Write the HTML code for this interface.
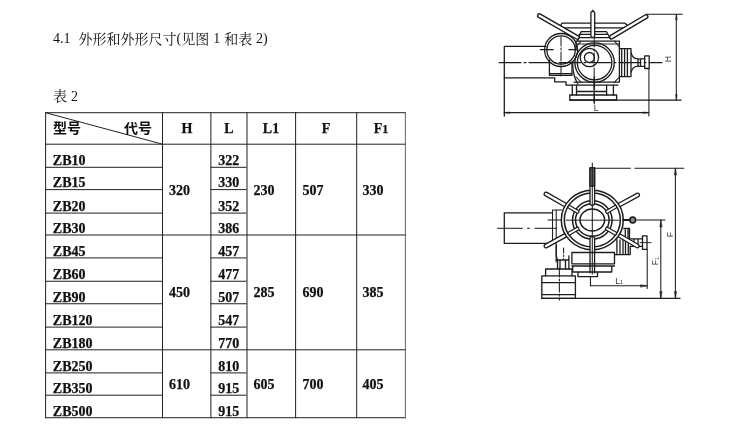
<!DOCTYPE html>
<html><head><meta charset="utf-8">
<style>
html,body{margin:0;padding:0;background:#fff;}
body{width:734px;height:432px;overflow:hidden;position:relative;font-family:"Liberation Serif",serif;}
svg{position:absolute;left:0;top:0;filter:grayscale(1);}
text{font-family:"Liberation Serif",serif;fill:#111;}
.lbl text{font-family:"Liberation Sans",sans-serif;fill:#333;}
</style></head><body>
<svg width="734" height="432" viewBox="0 0 734 432">
<g>
<rect x="45.1" y="112.2" width="360.79999999999995" height="1" fill="#222"/>
<rect x="45.1" y="143.7" width="360.79999999999995" height="1" fill="#222"/>
<rect x="45.1" y="417.2" width="360.79999999999995" height="1" fill="#222"/>
<rect x="45.1" y="112.2" width="1" height="306.0" fill="#222"/>
<rect x="162.0" y="112.2" width="1" height="306.0" fill="#222"/>
<rect x="210.4" y="112.2" width="1" height="306.0" fill="#222"/>
<rect x="246.5" y="112.2" width="1" height="306.0" fill="#222"/>
<rect x="295.1" y="112.2" width="1" height="306.0" fill="#222"/>
<rect x="356.2" y="112.2" width="1" height="306.0" fill="#222"/>
<rect x="404.9" y="112.2" width="1" height="306.0" fill="#666"/>
<rect x="45.1" y="166.8" width="116.9" height="1" fill="#222"/>
<rect x="210.4" y="166.8" width="36.099999999999994" height="1" fill="#222"/>
<rect x="45.1" y="189.1" width="116.9" height="1" fill="#222"/>
<rect x="210.4" y="189.1" width="36.099999999999994" height="1" fill="#222"/>
<rect x="45.1" y="212.6" width="116.9" height="1" fill="#222"/>
<rect x="210.4" y="212.6" width="36.099999999999994" height="1" fill="#222"/>
<rect x="45.1" y="234.5" width="360.79999999999995" height="1" fill="#222"/>
<rect x="45.1" y="257.4" width="116.9" height="1" fill="#222"/>
<rect x="210.4" y="257.4" width="36.099999999999994" height="1" fill="#222"/>
<rect x="45.1" y="280.75" width="116.9" height="1" fill="#222"/>
<rect x="210.4" y="280.75" width="36.099999999999994" height="1" fill="#222"/>
<rect x="45.1" y="303.25" width="116.9" height="1" fill="#222"/>
<rect x="210.4" y="303.25" width="36.099999999999994" height="1" fill="#222"/>
<rect x="45.1" y="326.6" width="116.9" height="1" fill="#222"/>
<rect x="210.4" y="326.6" width="36.099999999999994" height="1" fill="#222"/>
<rect x="45.1" y="349.3" width="360.79999999999995" height="1" fill="#222"/>
<rect x="45.1" y="372.4" width="116.9" height="1" fill="#222"/>
<rect x="210.4" y="372.4" width="36.099999999999994" height="1" fill="#222"/>
<rect x="45.1" y="394.7" width="116.9" height="1" fill="#222"/>
<rect x="210.4" y="394.7" width="36.099999999999994" height="1" fill="#222"/>
</g>
<line x1="45.6" y1="112.7" x2="162.5" y2="144.2" stroke="#222" stroke-width="1"/>
<g>
<text x="53" y="43.4" font-size="14" font-weight="normal" text-anchor="start" >4.1</text>
<text x="176.5" y="43.4" font-size="14" font-weight="normal" text-anchor="start" >(</text>
<text x="213.3" y="43.4" font-size="14" font-weight="normal" text-anchor="start" >1</text>
<text x="256" y="43.4" font-size="14" font-weight="normal" text-anchor="start" >2)</text>
<text x="71" y="100.7" font-size="14" font-weight="normal" text-anchor="start" >2</text>
<text x="52.8" y="165.10000000000002" font-size="14" font-weight="bold" text-anchor="start"  stroke="#111" stroke-width="0.25">ZB10</text>
<text x="218.3" y="165.10000000000002" font-size="14" font-weight="bold" text-anchor="start"  stroke="#111" stroke-width="0.25">322</text>
<text x="52.8" y="187.4" font-size="14" font-weight="bold" text-anchor="start"  stroke="#111" stroke-width="0.25">ZB15</text>
<text x="218.3" y="187.4" font-size="14" font-weight="bold" text-anchor="start"  stroke="#111" stroke-width="0.25">330</text>
<text x="52.8" y="210.9" font-size="14" font-weight="bold" text-anchor="start"  stroke="#111" stroke-width="0.25">ZB20</text>
<text x="218.3" y="210.9" font-size="14" font-weight="bold" text-anchor="start"  stroke="#111" stroke-width="0.25">352</text>
<text x="52.8" y="232.8" font-size="14" font-weight="bold" text-anchor="start"  stroke="#111" stroke-width="0.25">ZB30</text>
<text x="218.3" y="232.8" font-size="14" font-weight="bold" text-anchor="start"  stroke="#111" stroke-width="0.25">386</text>
<text x="52.8" y="255.7" font-size="14" font-weight="bold" text-anchor="start"  stroke="#111" stroke-width="0.25">ZB45</text>
<text x="218.3" y="255.7" font-size="14" font-weight="bold" text-anchor="start"  stroke="#111" stroke-width="0.25">457</text>
<text x="52.8" y="279.05" font-size="14" font-weight="bold" text-anchor="start"  stroke="#111" stroke-width="0.25">ZB60</text>
<text x="218.3" y="279.05" font-size="14" font-weight="bold" text-anchor="start"  stroke="#111" stroke-width="0.25">477</text>
<text x="52.8" y="301.55" font-size="14" font-weight="bold" text-anchor="start"  stroke="#111" stroke-width="0.25">ZB90</text>
<text x="218.3" y="301.55" font-size="14" font-weight="bold" text-anchor="start"  stroke="#111" stroke-width="0.25">507</text>
<text x="52.8" y="324.90000000000003" font-size="14" font-weight="bold" text-anchor="start"  stroke="#111" stroke-width="0.25">ZB120</text>
<text x="218.3" y="324.90000000000003" font-size="14" font-weight="bold" text-anchor="start"  stroke="#111" stroke-width="0.25">547</text>
<text x="52.8" y="347.6" font-size="14" font-weight="bold" text-anchor="start"  stroke="#111" stroke-width="0.25">ZB180</text>
<text x="218.3" y="347.6" font-size="14" font-weight="bold" text-anchor="start"  stroke="#111" stroke-width="0.25">770</text>
<text x="52.8" y="370.7" font-size="14" font-weight="bold" text-anchor="start"  stroke="#111" stroke-width="0.25">ZB250</text>
<text x="218.3" y="370.7" font-size="14" font-weight="bold" text-anchor="start"  stroke="#111" stroke-width="0.25">810</text>
<text x="52.8" y="393.0" font-size="14" font-weight="bold" text-anchor="start"  stroke="#111" stroke-width="0.25">ZB350</text>
<text x="218.3" y="393.0" font-size="14" font-weight="bold" text-anchor="start"  stroke="#111" stroke-width="0.25">915</text>
<text x="52.8" y="415.5" font-size="14" font-weight="bold" text-anchor="start"  stroke="#111" stroke-width="0.25">ZB500</text>
<text x="218.3" y="415.5" font-size="14" font-weight="bold" text-anchor="start"  stroke="#111" stroke-width="0.25">915</text>
<text x="169" y="194.5" font-size="14" font-weight="bold" text-anchor="start"  stroke="#111" stroke-width="0.25">320</text>
<text x="253.5" y="194.5" font-size="14" font-weight="bold" text-anchor="start"  stroke="#111" stroke-width="0.25">230</text>
<text x="302.5" y="194.5" font-size="14" font-weight="bold" text-anchor="start"  stroke="#111" stroke-width="0.25">507</text>
<text x="362.5" y="194.5" font-size="14" font-weight="bold" text-anchor="start"  stroke="#111" stroke-width="0.25">330</text>
<text x="169" y="297" font-size="14" font-weight="bold" text-anchor="start"  stroke="#111" stroke-width="0.25">450</text>
<text x="253.5" y="297" font-size="14" font-weight="bold" text-anchor="start"  stroke="#111" stroke-width="0.25">285</text>
<text x="302.5" y="297" font-size="14" font-weight="bold" text-anchor="start"  stroke="#111" stroke-width="0.25">690</text>
<text x="362.5" y="297" font-size="14" font-weight="bold" text-anchor="start"  stroke="#111" stroke-width="0.25">385</text>
<text x="169" y="389" font-size="14" font-weight="bold" text-anchor="start"  stroke="#111" stroke-width="0.25">610</text>
<text x="253.5" y="389" font-size="14" font-weight="bold" text-anchor="start"  stroke="#111" stroke-width="0.25">605</text>
<text x="302.5" y="389" font-size="14" font-weight="bold" text-anchor="start"  stroke="#111" stroke-width="0.25">700</text>
<text x="362.5" y="389" font-size="14" font-weight="bold" text-anchor="start"  stroke="#111" stroke-width="0.25">405</text>
<text x="187" y="133" font-size="14" font-weight="bold" text-anchor="middle"  stroke="#111" stroke-width="0.25">H</text>
<text x="229" y="133" font-size="14" font-weight="bold" text-anchor="middle"  stroke="#111" stroke-width="0.25">L</text>
<text x="271" y="133" font-size="14" font-weight="bold" text-anchor="middle"  stroke="#111" stroke-width="0.25">L1</text>
<text x="326" y="133" font-size="14" font-weight="bold" text-anchor="middle"  stroke="#111" stroke-width="0.25">F</text>
<text x="381" y="133" font-size="14" font-weight="bold" text-anchor="middle"  stroke="#111" stroke-width="0.25">F<tspan font-size="12">1</tspan></text>
</g>
<g>
<text x="78.5" y="43.7" font-size="14" style="font-family:'Liberation Serif','Noto Serif CJK SC',serif">外形和外形尺寸</text>
<text x="181.2" y="43.7" font-size="14" style="font-family:'Liberation Serif','Noto Serif CJK SC',serif">见图</text>
<text x="224.3" y="43.7" font-size="14" style="font-family:'Liberation Serif','Noto Serif CJK SC',serif">和表</text>
<text x="53" y="100.7" font-size="14" style="font-family:'Liberation Serif','Noto Serif CJK SC',serif">表</text>
<text x="53" y="133.4" font-size="14" font-weight="bold" style="font-family:'Liberation Sans','Noto Sans CJK SC',sans-serif">型号</text>
<text x="124" y="133.4" font-size="14" font-weight="bold" style="font-family:'Liberation Sans','Noto Sans CJK SC',sans-serif">代号</text>
</g>
<defs>
<filter id="bl" x="-5%" y="-5%" width="110%" height="110%"><feGaussianBlur stdDeviation="0.4"/></filter>
</defs>
<g id="top" fill="none" stroke="#1c1c1c" stroke-width="1.3" stroke-linecap="round" stroke-linejoin="round" filter="url(#bl)">
<!-- motor box -->
<path d="M546 46.4H504.3V116"/>
<path d="M504.3 77.9H554.7V81.8H566V85.1H618"/>
<!-- center line -->
<path d="M499 62.6H662" stroke-dasharray="22 3 2 3" stroke-width="1.05"/>
<!-- left circle -->
<circle cx="561.1" cy="50" r="16.5"/>
<circle cx="561.1" cy="50" r="14.2"/>
<path d="M561 37V77" stroke-dasharray="9 2 2 2" stroke-width="1"/>
<path d="M540.4 49.7H553.2M569 49.7H577.3" stroke-width="1.3"/>
<!-- sub box -->
<path d="M549.4 60V75.3H572V62M549.4 73.6H572"/>
<!-- body -->
<path d="M576 49V41.1H619.4V82.1H574"/>
<path d="M577.6 44H619.4" stroke-width="0.95"/>
<circle cx="594.6" cy="62.6" r="19.7"/>
<circle cx="594.6" cy="62.6" r="17.3"/>
<path d="M576 47L581 41.1M614.5 41.1L619.4 47M576 77L581 82.1M614.5 82.1L619.4 77" stroke-width="1.05"/>
<circle cx="589.4" cy="57.5" r="9.2"/>
<circle cx="589.4" cy="57.5" r="5"/>
<path d="M572.6 62Q572.6 76 578 84" />
<!-- cover -->
<path d="M577.6 41.1L581.2 31.6H606.3L610.6 39M579 34.4H607.5M579.5 37.6H609" />
<!-- top plate -->
<path d="M562 23.2H625L627.5 25.5L624.5 27.8H563L560.5 25.5Z"/>
<!-- rod -->
<path d="M590.9 12.5Q592.8 9.5 594.7 12.5V36Q592.8 39 590.9 36Z" fill="#fff"/>
<path d="M592.8 10V12" stroke-width="0.95"/>
<!-- handles -->
<path d="M539.5 15.7L577.3 37.4" stroke-width="5.1" stroke="#1c1c1c"/>
<path d="M539.5 15.7L577.3 37.4" stroke-width="2.3" stroke="#fff"/>
<path d="M611.5 37L646 16.6" stroke-width="5.1" stroke="#1c1c1c"/>
<path d="M611.5 37L646 16.6" stroke-width="2.3" stroke="#fff"/>
<!-- center vertical -->
<path d="M594.2 38V104" stroke-dasharray="9 2 2 2" stroke-width="1"/>
<path d="M594.2 77V89M594.2 93V102" stroke-width="1.5"/>
<!-- right flange -->
<path d="M619.4 48.6H631V76.6H619.4M621.7 48.6V76.6M624.6 48.6V76.6M627.4 48.6V76.6"/>
<path d="M631 53Q633 58.8 637 58.8H644.7M631 72Q633 66.3 637 66.3H644.7M638 58.8V66.3M640.5 58.8V66.3"/>
<rect x="644.7" y="55.8" width="4.5" height="12.7"/>
<!-- base -->
<path d="M572.3 85.1V95M576.5 85.1V95M606.6 85.1V95M613.4 85.1V95M576.5 91.5H606.6"/>
<path d="M569.8 95H616.6V100H569.8Z"/>
<path d="M569.8 100.1H681"/>
<!-- dims -->
<path d="M646 14.3H682.3M676.3 14.3V100.1" stroke-width="1.05"/>
<path d="M676.3 14.3L675.6 20L677 20ZM676.3 100.1L675.6 94.5L677 94.5Z" fill="#222" stroke-width="0.4"/>
<path d="M648.9 68.5V116M504.3 112.6H648.9" stroke-width="1.05"/>
<path d="M504.3 112.6L510 111.9V113.3ZM648.9 112.6L643 111.9V113.3Z" fill="#222" stroke-width="0.4"/>
</g>
<g filter="url(#bl)" class="lbl" fill="#333" font-size="7.5">
<text x="593.8" y="110.7" font-size="8.5">L</text>
<text transform="translate(670.6,62.2) rotate(-90)" font-size="8.5">H</text>
</g>

<g id="bot" fill="none" stroke="#1c1c1c" stroke-width="1.3" stroke-linecap="round" stroke-linejoin="round" filter="url(#bl)">
<!-- motor -->
<path d="M552.5 212.8H504.3V243.4H548"/>
<path d="M497.5 228.3H556.5" stroke-dasharray="25 5 2 5.5" stroke-width="1"/>
<path d="M552.5 210V243M556.2 210V262M552.5 210H562M548 220H580" stroke-width="1.05"/>
<!-- right gear -->
<path d="M616.9 238.9V254.7H630.2V246.4M620 240V254.7M623 238V254.7M625.5 238V254.7M628.3 240V254.7"/>
<path d="M623.5 228.3H629.5V238.9M625.3 228.3V238.9M628 228.3V238.9M630 238.9H642.5M630.2 246.4H642.5M634 238.9V246.4M638 238.9V246.4"/>
<rect x="642.5" y="235.9" width="4.5" height="13.5"/>
<path d="M640 242.6H651" stroke-width="0.95"/>
<!-- spokes handles (outer) -->
<g stroke-width="4.9">
<path d="M546 194L566 205.4"/>
<path d="M546 246L566 235"/>
<path d="M637.6 195L618.6 205.4"/>
<path d="M637.3 246L618.6 235"/>
</g>
<g stroke-width="2.4" stroke="#fff">
<path d="M546 194L566 205.4"/>
<path d="M546 246L566 235"/>
<path d="M637.6 195L618.6 205.4"/>
<path d="M637.3 246L618.6 235"/>
</g>
<!-- wheel -->
<g stroke-width="1.5"><ellipse cx="592.3" cy="220" rx="31" ry="29.8" fill="#fff"/>
<ellipse cx="592.3" cy="220" rx="28" ry="26.9"/>
<ellipse cx="592.3" cy="220" rx="19.8" ry="19.2"/>
<ellipse cx="592.3" cy="220" rx="16.8" ry="16.2"/>
<ellipse cx="592.3" cy="220" rx="12.3" ry="10.9"/></g>
<!-- inner spokes -->
<g stroke-width="4.2">
<path d="M577.5 211.7L569.5 207"/>
<path d="M577.5 228.7L569.5 233.4"/>
<path d="M607.1 211.7L615.1 207"/>
<path d="M607.1 228.7L615.1 233.4"/>
</g>
<g stroke-width="1.8" stroke="#fff">
<path d="M577.5 211.7L569.5 207"/>
<path d="M577.5 228.7L569.5 233.4"/>
<path d="M607.1 211.7L615.1 207"/>
<path d="M607.1 228.7L615.1 233.4"/>
</g>
<!-- vertical spokes -->
<path d="M590 167.8H594.6V204Q592.3 207 590 204Z" fill="#fff" stroke-width="1.3"/>
<path d="M590 167.8H594.6V186H590Z" fill="#666"/>
<path d="M590 272.8V238Q592.3 234.5 594.6 238V272.8" fill="#fff" stroke-width="1.3"/>
<path d="M592.3 163V274" stroke-width="1.05"/>
<path d="M566 220.2H619" stroke-width="0.95"/>
<!-- ball -->
<circle cx="632.7" cy="220" r="2.9" stroke-width="1.5" fill="#888"/>
<path d="M623 220H630" stroke-width="1.8"/>
<!-- under wheel boxes -->
<path d="M571.9 263.8V252.5H614.5V263.8ZM571.9 266H614.5M572.7 266V272H611.8V266M578 272V276.6H597.5V272"/>
<path d="M614.5 254.7H617"/>
<!-- left lower -->
<path d="M556.2 245V256L557.5 260V269M568.9 256V269M560 260V269M565.5 260V269M556 260H569"/>
<path d="M563.6 248V259" stroke-dasharray="5 2 1.5 2" stroke-width="1.05"/>
<path d="M545.6 275.9V269H572V275.9"/>
<path d="M541.8 275.9H575.4V298.4H541.8ZM541.8 282.6H575.4M541.8 294.7H575.4"/>
<path d="M559.4 268V300" stroke-dasharray="9 2 2 2" stroke-width="1.05"/>
<!-- ground -->
<path d="M541.8 298.4H680"/>
<!-- dims -->
<path d="M594.6 168.2H630.4M634.9 168.2H683.8M675.4 168.2V298.4" stroke-width="1.05"/>
<path d="M675.4 168.2L674.4 175H676.4ZM675.4 298.4L674.4 291.5H676.4Z" fill="#222" stroke-width="0.5"/>
<path d="M636 220H665M660.8 220V298.4" stroke-width="1.05"/>
<path d="M660.8 220L659.8 227H661.8ZM660.8 298.4L659.8 291.5H661.8Z" fill="#222" stroke-width="0.5"/>
<path d="M590.4 276.6V286M590.4 285.8H647.2M647.2 249.4V288.5" stroke-width="1.05"/>
<path d="M647.2 285.8L640.5 284.8V286.8Z" fill="#222" stroke-width="0.5"/>
</g>
<g filter="url(#bl)" class="lbl" fill="#333" font-size="7.5">
<text x="615.3" y="283.6" font-size="8.5">L<tspan font-size="5.5" dy="0.5">1</tspan></text>
<text transform="translate(672.8,237.2) rotate(-90)" font-size="8.5">F</text>
<text transform="translate(658,265.3) rotate(-90)" font-size="8.5">F<tspan font-size="5.5" dy="0.5">1</tspan></text>
</g>

</svg>
</body></html>
